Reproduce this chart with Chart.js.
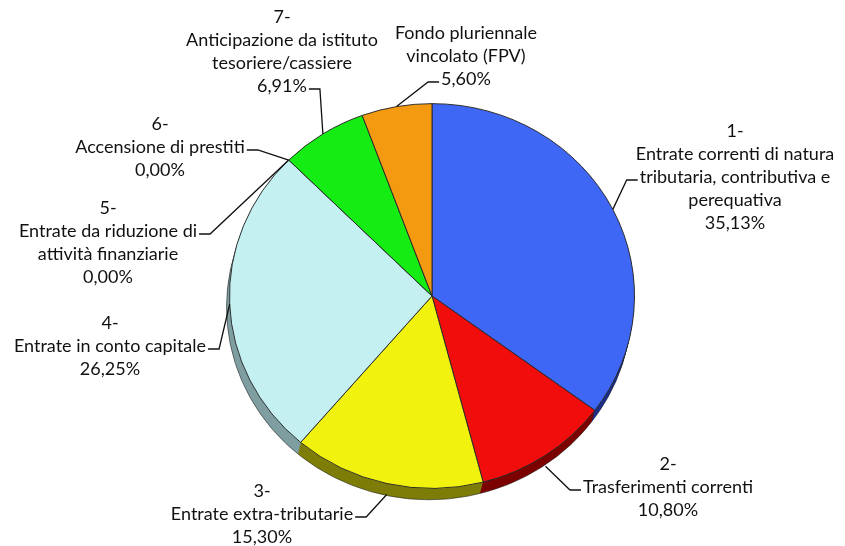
<!DOCTYPE html>
<html lang="it">
<head>
  <meta charset="UTF-8" />
  <title>Composizione delle entrate</title>
  <script src="https://cdn.jsdelivr.net/npm/chart.js"></script>
  <style>
    html, body { margin: 0; padding: 0; background: #fff; }
    #wrap { width: 845px; height: 546px; }
  </style>
</head>
<body>
  <div id="wrap"><canvas id="pieChart" width="845" height="546"></canvas></div>

  <script>
    // data (percentages, clockwise from the top)
    const categories = [
      '1-|Entrate correnti di natura|tributaria, contributiva e|perequativa',
      '2-|Trasferimenti correnti',
      '3-|Entrate extra-tributarie',
      '4-|Entrate in conto capitale',
      '5-|Entrate da riduzione di|attività finanziarie',
      '6-|Accensione di prestiti',
      '7-|Anticipazione da istituto|tesoriere/cassiere',
      'Fondo pluriennale|vincolato (FPV)'
    ];
    const values = [35.13, 10.80, 15.30, 26.25, 0.00, 0.00, 6.91, 5.60];

    const topColors  = ['#3f67f5', '#f20d0d', '#f2f20f', '#c4f0f2', '#8aa0ff', '#ffffff', '#14ec14', '#f39a10'];
    const sideColors = ['#1b2f8a', '#7c0000', '#7d7d08', '#7f9ea1', '#4a5a99', '#999999', '#0a7a0a', '#8a5508'];

    // label blocks: centre x, first line y, which line carries the leader, side of the leader
    const labelPos = [
      { x: 735, y: 131, line: 2, side: 'left' },
      { x: 668, y: 464, line: 1, side: 'left' },
      { x: 262, y: 491, line: 1, side: 'right' },
      { x: 110, y: 323, line: 1, side: 'right' },
      { x: 108, y: 208, line: 1, side: 'right' },
      { x: 160, y: 124, line: 1, side: 'right' },
      { x: 282, y: 17,  line: 3, side: 'right' },
      { x: 466, y: 33,  line: 2, side: 'left' }
    ];

    const squash = 0.95;   // pie is a little flatter than a circle
    const depth = 11;      // thickness of the 3d side
    const lineH = 23;
    const font = '18px Lato, "Open Sans", sans-serif';

    function pct(v) {
      return v.toFixed(2).replace('.', ',') + '%';
    }

    const pie3d = {
      id: 'pie3d',
      beforeDatasetsDraw(chart) {
        const ctx = chart.ctx;
        const arcs = chart.getDatasetMeta(0).data;
        const cx = arcs[0].x, cy = arcs[0].y;
        ctx.save();
        ctx.translate(cx, cy);
        ctx.scale(1, squash);
        ctx.translate(-cx, -cy);
        // side wall, stacked copies shifted down
        const steps = Math.round(depth / squash);
        for (let k = steps; k >= 1; k--) {
          arcs.forEach((a, i) => {
            if (values[i] <= 0) return;
            const dx = -k * 0.25;
            ctx.beginPath();
            ctx.moveTo(a.x + dx, a.y + k);
            ctx.arc(a.x + dx, a.y + k, a.outerRadius, a.startAngle, a.endAngle);
            ctx.closePath();
            ctx.fillStyle = sideColors[i];
            ctx.fill();
          });
        }
        // dark rim under the wall
        ctx.beginPath();
        ctx.arc(cx - steps * 0.25, cy + steps, arcs[0].outerRadius, 0, Math.PI * 2);
        ctx.strokeStyle = 'rgba(40,40,40,0.6)';
        ctx.lineWidth = 1;
        ctx.stroke();
      },
      afterDatasetsDraw(chart) {
        chart.ctx.restore();
      }
    };

    const pieLabels = {
      id: 'pieLabels',
      afterDraw(chart) {
        const ctx = chart.ctx;
        const arcs = chart.getDatasetMeta(0).data;
        ctx.save();
        ctx.font = font;
        ctx.fillStyle = '#111';
        ctx.textAlign = 'center';
        ctx.textBaseline = 'middle';
        ctx.strokeStyle = '#111';
        ctx.lineWidth = 1.3;

        arcs.forEach((a, i) => {
          const lines = categories[i].split('|').concat(pct(values[i]));
          const p = labelPos[i];
          lines.forEach((t, j) => ctx.fillText(t, p.x, p.y + j * lineH));

          // leader line: from the rim (or the side wall below it) to the text
          const mid = (a.startAngle + a.endAngle) / 2;
          let ax = a.x + Math.cos(mid) * a.outerRadius;
          let ay = a.y + Math.sin(mid) * a.outerRadius * squash;
          if (Math.sin(mid) > 0) ay += depth * Math.min(1, Math.sin(mid) * 1.2);
          const w = ctx.measureText(lines[p.line]).width;
          const ty = p.y + p.line * lineH + 3;
          const tx = p.side === 'left' ? p.x - w / 2 - 2 : p.x + w / 2 + 2;
          const ex = p.side === 'left' ? tx - 11 : tx + 11;
          ctx.beginPath();
          ctx.moveTo(ax, ay);
          ctx.lineTo(ex, ty);
          ctx.lineTo(tx, ty);
          ctx.stroke();
        });
        ctx.restore();
      }
    };

    new Chart(document.getElementById('pieChart'), {
      type: 'pie',
      data: {
        labels: categories,
        datasets: [{
          data: values,
          backgroundColor: topColors,
          borderColor: '#2a2a2a',
          borderWidth: 1
        }]
      },
      options: {
        responsive: false,
        animation: false,
        events: [],
        layout: { padding: { left: 229, right: 210, top: 93, bottom: 47 } },
        plugins: {
          legend: { display: false },
          tooltip: { enabled: false }
        }
      },
      plugins: [pie3d, pieLabels]
    });
  </script>
</body>
</html>
